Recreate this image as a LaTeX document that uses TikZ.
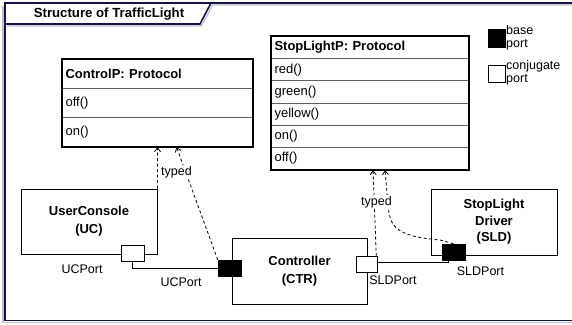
\documentclass[tikz,border=0pt]{standalone}
\usepackage{fontspec}
\setmainfont{Liberation Sans}
\usetikzlibrary{arrows.meta}

\begin{document}
\begin{tikzpicture}[x=1pt,y=-1pt,
  comp/.style={draw=col_box,line width=0.8pt,fill=white,inner sep=0pt,align=center,
    font=\fontsize{13}{18}\selectfont\bfseries},
  protorow/.style 2 args={draw=col_sep,line width=1.1pt,anchor=north west,fill=white,
    text width=#1,minimum height=#2,inner xsep=3pt,inner ysep=0pt,align=left,
    font=\fontsize{13}{14}\selectfont},
  protobox/.style={draw=col_box,line width=1.4pt},
  baseport/.style={draw=col_box,fill=col_box,line width=0.6pt,minimum width=23pt,minimum height=16pt,inner sep=0pt},
  conjport/.style={draw=col_box,fill=white,line width=0.6pt,minimum width=23pt,minimum height=16pt,inner sep=0pt},
  portlabel/.style={inner sep=1pt,font=\fontsize{12.5}{14}\selectfont},
  typed/.style={dashed,dash pattern=on 3pt off 2.5pt,line width=0.8pt,-{Straight Barb[length=4pt,width=6pt]}},
  wire/.style={line width=0.7pt,draw=col_box}]
%
\definecolor{col_frame}{rgb}{0.08,0.08,0.28}
\definecolor{col_shadow}{rgb}{0.75,0.75,0.78}
\definecolor{col_box}{rgb}{0.0,0.0,0.0}
\definecolor{col_sep}{rgb}{0.38,0.38,0.38}
%
\useasboundingbox (0,0) rectangle (572,324);
%
% frame
\draw[col_shadow,line width=1.4pt] (3,6) -- (3,322.5) -- (576,322.5);
\draw[col_shadow,line width=1.2pt] (7,26) -- (201.5,26) -- (212.5,5) -- (576,5);
\draw[col_frame,line width=1.6pt] (5,3) rectangle (576,320.5);
\draw[col_frame,line width=1.6pt] (5,24) -- (200,24) -- (211,3);
\node[font=\fontsize{13.2}{14}\selectfont\bfseries] (title) at (109,14) {Structure of TrafficLight};
%
% protocols
\node[protorow={184pt}{29pt},font=\fontsize{13}{14}\selectfont\bfseries] (ctrlp) at (62,59) {ControlP: Protocol};
\node[protorow={184pt}{29pt}] (ctrlp-off) at (62,88) {off()};
\node[protorow={184pt}{29pt}] (ctrlp-on) at (62,117) {on()};
\draw[protobox] (ctrlp.north west) rectangle (ctrlp-on.south east);
%
\node[protorow={191pt}{22.17pt},font=\fontsize{13}{14}\selectfont\bfseries] (slp) at (271,36) {StopLightP: Protocol};
\node[protorow={191pt}{22.17pt}] (slp-red) at (271,58.17) {red()};
\node[protorow={191pt}{22.17pt}] (slp-green) at (271,80.33) {green()};
\node[protorow={191pt}{22.17pt}] (slp-yellow) at (271,102.5) {yellow()};
\node[protorow={191pt}{22.17pt}] (slp-on) at (271,124.67) {on()};
\node[protorow={191pt}{22.17pt}] (slp-off) at (271,146.83) {off()};
\draw[protobox] (slp.north west) rectangle (slp-off.south east);
%
% legend
\node[baseport,minimum width=17pt,minimum height=18pt] (lgbase) at (496.5,38) {};
\node[anchor=west,inner sep=0pt,align=left,font=\fontsize{12.5}{13}\selectfont] (lgbase-t) at (506,37.5) {base\\port};
\node[conjport,minimum width=17pt,minimum height=17pt] (lgconj) at (496.5,73.5) {};
\node[anchor=west,inner sep=0pt,align=left,font=\fontsize{12.5}{13}\selectfont] (lgconj-t) at (506,72.5) {conjugate\\port};
%
% parts
\node[comp,minimum width=136pt,minimum height=65pt] (uc) at (89,221.5) {UserConsole\\(UC)};
\node[comp,minimum width=135pt,minimum height=66pt] (ctr) at (299.5,271) {Controller\\(CTR)};
\node[comp,minimum width=126pt,minimum height=66pt,font=\fontsize{13}{16.5}\selectfont\bfseries] (sld) at (494,222) {StopLight\\Driver\\(SLD)};
%
\node[conjport] (uc-p) at (132.5,253) {};
\node[baseport] (ctr-ucp) at (229.5,268) {};
\node[conjport,minimum width=21pt] (ctr-sldp) at (366.5,264.5) {};
\node[baseport] (sld-p) at (453.5,252) {};
%
\node[portlabel] (uc-pl) at (82,269) {UCPort};
\node[portlabel] (ctr-ucpl) at (181,282) {UCPort};
\node[portlabel] (ctr-sldpl) at (393,280) {SLDPort};
\node[portlabel] (sld-pl) at (480.5,271) {SLDPort};
%
% wires
\draw[wire] (uc-p.south) |- (ctr-ucp.west);
\draw[wire] ([yshift=2pt]ctr-sldp.east) -| ([xshift=-5pt]sld-p.south);
%
% typed
\draw[typed] (uc.north east) -- (ctrlp-on.south);
\draw[typed] (ctr-ucp.north west) -- ([xshift=19pt]ctrlp-on.south);
\draw[typed] ([xshift=-1pt]ctr-sldp.north east) -- ([xshift=3pt]slp-off.south);
\draw[typed] (sld-p.north) -- (440,240) .. controls (394,236) and (390,226) .. (388,205) -- ([xshift=15pt]slp-off.south);
\node[portlabel,fill=white] (typed-a) at (176.5,172) {typed};
\node[portlabel,fill=white] (typed-b) at (376.5,202) {typed};
%
\end{tikzpicture}
\end{document}
